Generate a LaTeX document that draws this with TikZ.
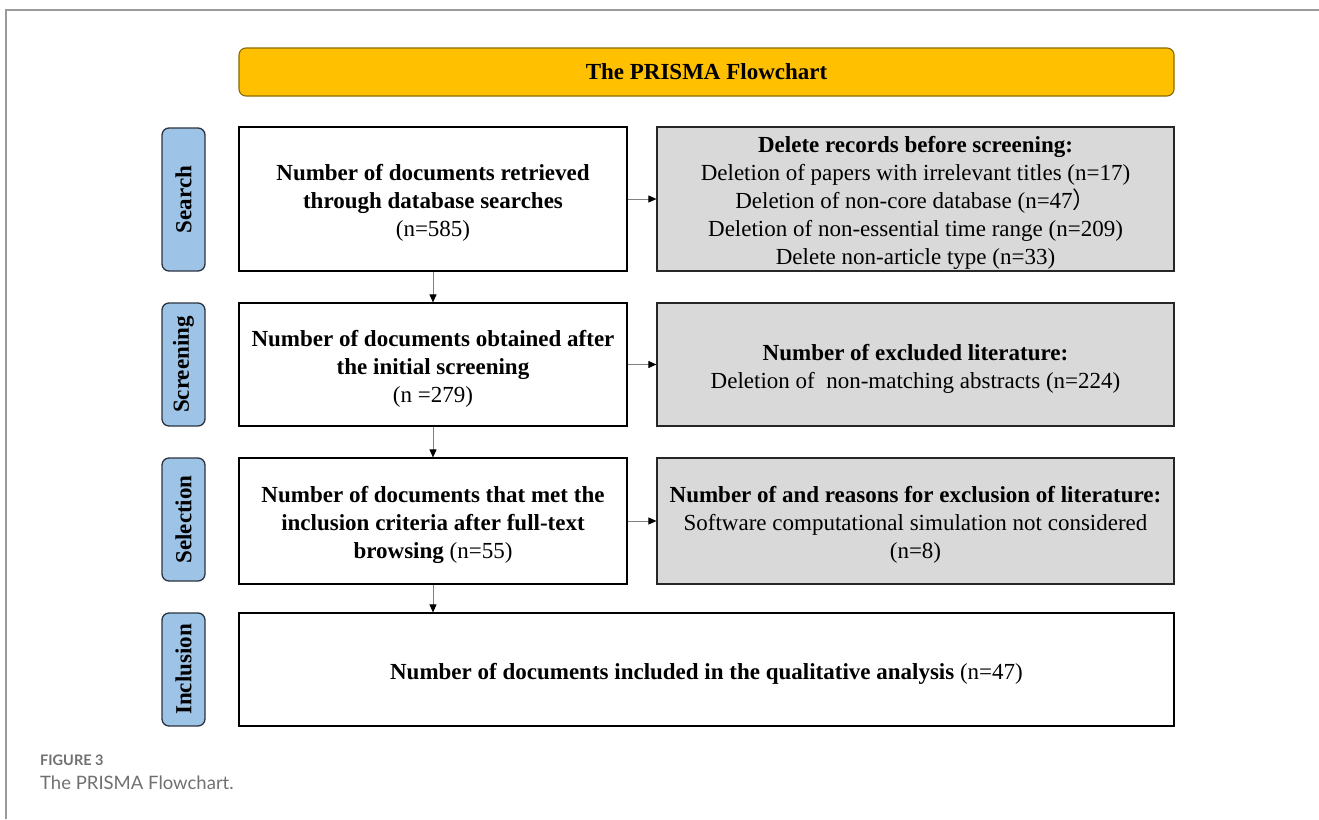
\documentclass[tikz,border=0pt]{standalone}
\usepackage{fontspec}
\setmainfont{Liberation Serif}
\newfontfamily\captfont{Lato}
\newfontfamily\cjkfont{Noto Sans CJK SC}
\usetikzlibrary{arrows.meta}

\definecolor{titlefill}{HTML}{FFC000}
\definecolor{titledraw}{HTML}{8A6A00}
\definecolor{phasefill}{HTML}{9DC3E6}
\definecolor{phasedraw}{HTML}{2B3440}
\definecolor{notefill}{HTML}{D9D9D9}
\definecolor{framegray}{HTML}{9A9A9A}
\definecolor{captgray}{HTML}{707070}
\definecolor{arrowgray}{HTML}{808080}

\tikzset{
  txt/.style={font=\fontsize{23}{28}\selectfont, align=center, inner sep=0pt},
  titlebox/.style={txt, font=\fontsize{23}{28}\selectfont\bfseries, draw=titledraw, fill=titlefill,
    line width=1.1pt, rounded corners=7pt},
  phasebox/.style={txt, font=\fontsize{23}{28}\selectfont\bfseries, draw=phasedraw, fill=phasefill,
    line width=1.3pt, rounded corners=7pt, minimum width=43pt},
  stagebox/.style={draw=black, fill=white, line width=1.2pt, minimum width=388pt, inner sep=0pt},
  notebox/.style={draw=black!85, fill=notefill, line width=1.2pt, minimum width=517pt, inner sep=0pt},
  % box texts sit slightly below the middle of their boxes
  boxtext/.style={txt, yshift=-4pt},
  flow/.style={draw=arrowgray, line width=0.9pt, -{Triangle[length=8pt,width=7pt,color=black,fill=black]}}
}

\begin{document}
\begin{tikzpicture}[x=1pt,y=-1pt]
\useasboundingbox (0,0) rectangle (1319,819);

% page frame
\draw[framegray, line width=1.5pt] (1319,10) -- (6,10) -- (6,819);

% title bar
\node[titlebox, minimum width=935pt, minimum height=48pt] (title) at (706.5,72) {The PRISMA Flowchart};

% phase labels
\node[phasebox, minimum height=143pt] (pSearch) at (183.5,199.5) {\rotatebox{90}{Search}};
\node[phasebox, minimum height=123pt] (pScreen) at (183.5,364.5) {\rotatebox{90}{Screening}};
\node[phasebox, minimum height=123pt] (pSelect) at (183.5,519.5) {\rotatebox{90}{Selection}};
\node[phasebox, minimum height=113pt] (pIncl) at (183.5,669.5) {\rotatebox{90}{Inclusion}};

% main stages
\node[stagebox, minimum height=144pt] (s1) at (433,199) {};
\node[boxtext] (s1t) at (s1.center) {\textbf{Number of documents retrieved}\\\textbf{through database searches}\\(n=585)};
\node[stagebox, minimum height=123pt] (s2) at (433,364.5) {};
\node[boxtext] (s2t) at (s2.center) {\textbf{Number of documents obtained after}\\\textbf{the initial screening}\\(n =279)};
\node[stagebox, minimum height=126pt] (s3) at (433,521) {};
\node[boxtext] (s3t) at (s3.center) {\textbf{Number of documents that met the}\\\textbf{inclusion criteria after full-text}\\\textbf{browsing} (n=55)};
\node[stagebox, minimum width=935pt, minimum height=113pt] (s4) at (706.5,669.5) {};
\node[boxtext] (s4t) at (s4.center) {\textbf{Number of documents included in the qualitative analysis} (n=47)};

% exclusion notes
\node[notebox, minimum height=144pt] (r1) at (915.5,199) {};
\node[boxtext] (r1t) at (r1.center) {\textbf{Delete records before screening:}\\Deletion of papers with irrelevant titles (n=17)\\Deletion of non-core database (n=47{\cjkfont ）}\\Deletion of non-essential time range (n=209)\\Delete non-article type (n=33)};
\node[notebox, minimum height=123pt] (r2) at (915.5,364.5) {};
\node[boxtext] (r2t) at (r2.center) {\textbf{Number of excluded literature:}\\Deletion of \ non-matching abstracts (n=224)};
\node[notebox, minimum height=126pt] (r3) at (915.5,521) {};
\node[boxtext] (r3t) at (r3.center) {\textbf{Number of and reasons for exclusion of literature:}\\Software computational simulation not considered\\(n=8)};

% connectors
\draw[flow] (s1.south) -- (s2.north);
\draw[flow] (s2.south) -- (s3.north);
\draw[flow] (s3.south) -- (s3.south |- s4.north);
\draw[flow] (s1.east) -- (r1.west);
\draw[flow] (s2.east) -- (r2.west);
\draw[flow] (s3.east) -- (r3.west);

% caption
\node[anchor=base west, inner sep=0pt, text=captgray, font=\captfont\bfseries\fontsize{14.5}{16}\selectfont] (capnum) at (40,765) {FIGURE 3};
\node[anchor=base west, inner sep=0pt, text=captgray, font=\captfont\fontsize{18.5}{20}\selectfont] (captext) at (40,789) {The PRISMA Flowchart.};
\end{tikzpicture}
\end{document}
